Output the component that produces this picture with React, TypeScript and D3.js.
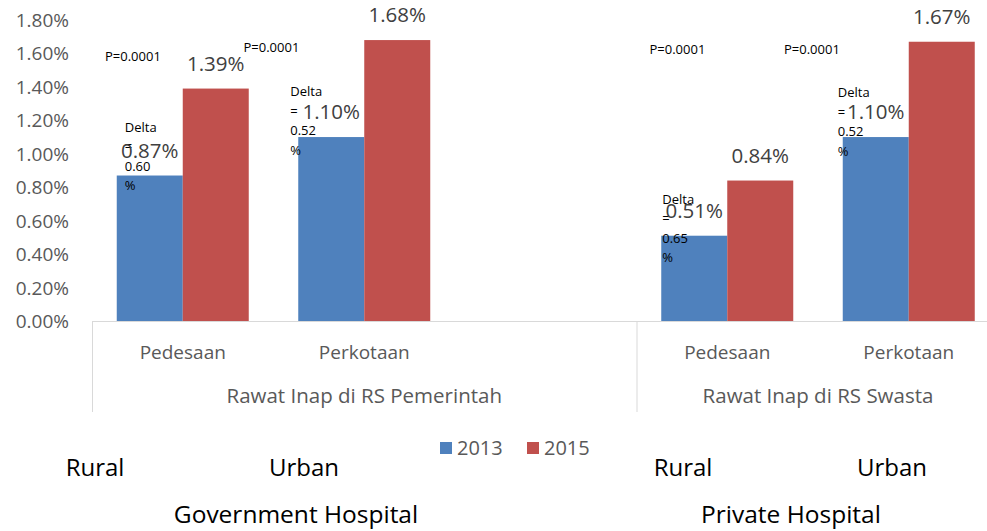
import * as d3 from 'd3'
import React from 'react'

// categories (5 slots, the 3rd one is an empty slot of the first group)
const categories = ['Pedesaan', 'Perkotaan', '', 'Pedesaan', 'Perkotaan']
const groupOf = [0, 0, 0, 1, 1]
const groupLabels = ['Rawat Inap di RS Pemerintah', 'Rawat Inap di RS Swasta']
const series = ['2013', '2015']
const values2013 = [0.87, 1.1, null, 0.51, 1.1]
const values2015 = [1.39, 1.68, null, 0.84, 1.67]
const deltaValues = ['0.60', '0.52', null, '0.65', '0.52']
const pValues = ['P=0.0001', 'P=0.0001', null, 'P=0.0001', 'P=0.0001']
const englishCategories = ['Rural', 'Urban', '', 'Rural', 'Urban']
const englishGroups = ['Government Hospital', 'Private Hospital']

const W = 987
const H = 531
const colors = ['#4f81bd', '#c0504d']
const font = "'Open Sans', sans-serif"

// hand placed text boxes (offsets from the bar / slot)
const deltaOffset = [
  { dx: 8, dy: -49 },
  { dx: -8, dy: -46 },
  { dx: 1, dy: -37 },
  { dx: -5, dy: -45 }
]
const pOffset = [{ dx: 13, y: 56 }, { dx: -30, y: 47 }, null, { dx: 13, y: 49 }, { dx: -34, y: 49 }]
const englishCatX = [95, 304, 0, 683, 892]
const englishGroupX = [296, 791]

export default function App() {
  const x = d3
    .scaleBand<number>()
    .domain(d3.range(categories.length))
    .range([92, 999.5])
  const inner = d3
    .scaleBand<string>()
    .domain(series)
    .range([0, x.bandwidth()])
    .paddingOuter(0.375)
  const y = d3.scaleLinear().domain([0, 1.8]).range([321, 20])
  const ticks = y.ticks(9)
  const fmt = d3.format('.2f')

  const bars: any[] = []
  categories.forEach((c, i) => {
    ;[values2013[i], values2015[i]].forEach((v, s) => {
      if (v == null) return
      bars.push({ i, s, v, x0: x(i)! + inner(series[s])!, top: y(v) })
    })
  })

  // group boundaries
  const bounds: number[] = [x(0)!]
  groupOf.forEach((g, i) => {
    if (i > 0 && g !== groupOf[i - 1]) bounds.push(x(i)!)
  })
  bounds.push(x.range()[1])

  let di = 0
  return (
    <svg width={W} height={H} style={{ position: 'absolute', left: 0, top: 0, fontFamily: font }}>
      {/* y ticks */}
      {ticks.map((t) => (
        <text key={t} x={69} y={y(t) + 7} textAnchor="end" fontSize={19} fill="#595959">
          {fmt(t)}%
        </text>
      ))}

      {/* bars */}
      {bars.map((b, k) => (
        <rect key={k} x={b.x0} y={b.top} width={inner.bandwidth()} height={y(0) - b.top} fill={colors[b.s]} />
      ))}

      {/* axis frame */}
      <line x1={92} x2={W} y1={y(0) + 0.5} y2={y(0) + 0.5} stroke="#d9d9d9" />
      {bounds.map((bx, k) => (
        <line key={k} x1={bx + 0.5} x2={bx + 0.5} y1={y(0)} y2={412} stroke="#d9d9d9" />
      ))}

      {/* category labels */}
      {categories.map((c, i) => (
        <text key={i} x={x(i)! + x.bandwidth() / 2} y={359} textAnchor="middle" fontSize={19} fill="#595959">
          {c}
        </text>
      ))}
      {groupLabels.map((g, k) => (
        <text key={g} x={(bounds[k] + bounds[k + 1]) / 2} y={403} textAnchor="middle" fontSize={20.5} fill="#595959">
          {g}
        </text>
      ))}

      {/* delta boxes */}
      {categories.map((c, i) => {
        const d = deltaValues[i]
        if (d == null) return null
        const off = deltaOffset[di++]
        const bx = x(i)! + inner(series[0])! + off.dx
        const by = y(values2013[i]!) + off.dy
        return (
          <text key={'d' + i} x={bx} fontSize={13} fill="#000">
            {['Delta', '=', d, '%'].map((l, j) => (
              <tspan key={j} x={bx} y={by + 5 + j * 19.5}>
                {l}
              </tspan>
            ))}
          </text>
        )
      })}

      {/* data labels */}
      {bars.map((b, k) => (
        <text
          key={'l' + k}
          x={b.x0 + inner.bandwidth() / 2}
          y={b.top - 18}
          textAnchor="middle"
          fontSize={20.5}
          fill="#404040"
        >
          {fmt(b.v)}%
        </text>
      ))}

      {/* p values */}
      {pValues.map((p, i) =>
        p == null ? null : (
          <text key={'p' + i} x={x(i)! + pOffset[i]!.dx} y={pOffset[i]!.y + 5} fontSize={13} fill="#000">
            {p}
          </text>
        )
      )}

      {/* legend */}
      {series.map((s, k) => (
        <g key={s} transform={`translate(${440 + k * 87},0)`}>
          <rect x={0} y={442} width={12} height={12} fill={colors[k]} />
          <text x={17} y={455} fontSize={20} fill="#595959">
            {s}
          </text>
        </g>
      ))}

      {/* english labels */}
      {englishCategories.map((e, i) =>
        e ? (
          <text key={'e' + i} x={englishCatX[i]} y={476} textAnchor="middle" fontSize={24} fill="#000">
            {e}
          </text>
        ) : null
      )}
      {englishGroups.map((e, k) => (
        <text key={e} x={englishGroupX[k]} y={523} textAnchor="middle" fontSize={24.5} fill="#000">
          {e}
        </text>
      ))}
    </svg>
  )
}
